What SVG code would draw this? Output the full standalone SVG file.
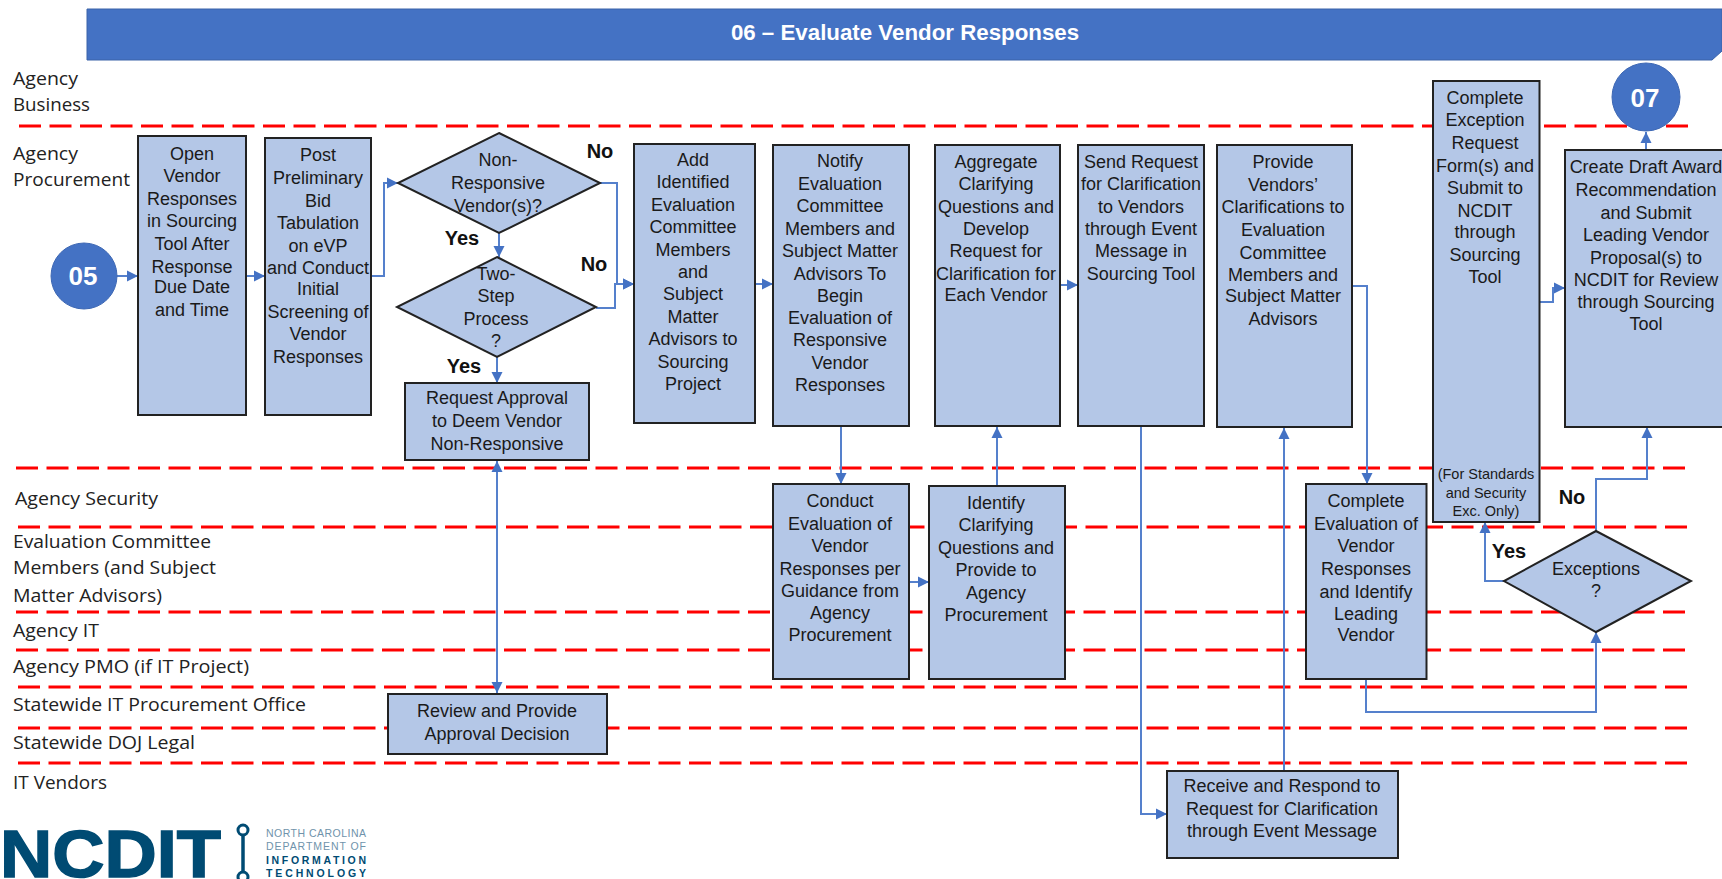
<svg xmlns="http://www.w3.org/2000/svg" width="1722" height="879" viewBox="0 0 1722 879">
<style>
.bg{fill:#fff}
.dash{stroke:#f00;stroke-width:3;stroke-dasharray:22 8.5;fill:none}
.c{stroke:#5580cc;stroke-width:2;fill:none;marker-end:url(#a)}
.n{fill:#b4c7e7;stroke:#222;stroke-width:2}
.circle{fill:#4472c4;stroke:#3e68b4;stroke-width:1}
.t{font-family:"Liberation Sans",Arial,sans-serif;font-size:18px;fill:#1a1a1a;text-anchor:middle}
.small{font-size:14.5px}
.ct{font-family:"Liberation Sans",Arial,sans-serif;font-size:26px;font-weight:700;fill:#fff;text-anchor:middle}
.lb{font-family:"Liberation Sans",Arial,sans-serif;font-size:20px;font-weight:700;fill:#111;text-anchor:middle}
.lane{font-family:"Open Sans",sans-serif;font-size:19px;fill:#222}
.logo{fill:#004b73;font-family:"Liberation Sans",Arial,sans-serif}
</style>
<defs>
<marker id="a" markerUnits="userSpaceOnUse" markerWidth="12" markerHeight="12" refX="11" refY="6" orient="auto"><path d="M0 0.5L11 6L0 11.5z" fill="#4472c4"/></marker>
<marker id="s" markerUnits="userSpaceOnUse" markerWidth="12" markerHeight="12" refX="11" refY="6" orient="auto-start-reverse"><path d="M0 0.5L11 6L0 11.5z" fill="#4472c4"/></marker>
</defs>
<rect class="bg" width="1722" height="879"/>
<g id="header"><path d="M87 9H1722V51L1712 60H87z" fill="#4472c4" stroke="#3a62a8" stroke-width="1"/>
<text x="905" y="40" font-family="'Liberation Sans',Arial,sans-serif" font-size="22.3" font-weight="700" fill="#fff" text-anchor="middle">06 – Evaluate Vendor Responses</text></g>
<g id="lanes">
<path class="dash" d="M19 126H1696"/>
<path class="dash" d="M16 468H1692"/>
<path class="dash" d="M18 527H1692"/>
<path class="dash" d="M16 612H1692"/>
<path class="dash" d="M16 650H1692"/>
<path class="dash" d="M18 687H1692"/>
<path class="dash" d="M18 728H1692"/>
<path class="dash" d="M18 763H1692"/>
<text class="lane" x="13" y="85" textLength="65" lengthAdjust="spacingAndGlyphs">Agency</text>
<text class="lane" x="13" y="111" textLength="77" lengthAdjust="spacingAndGlyphs">Business</text>
<text class="lane" x="13" y="160" textLength="65" lengthAdjust="spacingAndGlyphs">Agency</text>
<text class="lane" x="13" y="186" textLength="117" lengthAdjust="spacingAndGlyphs">Procurement</text>
<text class="lane" x="15" y="505" textLength="143" lengthAdjust="spacingAndGlyphs">Agency Security</text>
<text class="lane" x="13" y="548" textLength="198" lengthAdjust="spacingAndGlyphs">Evaluation Committee</text>
<text class="lane" x="13" y="574" textLength="203" lengthAdjust="spacingAndGlyphs">Members (and Subject</text>
<text class="lane" x="13" y="602" textLength="149" lengthAdjust="spacingAndGlyphs">Matter Advisors)</text>
<text class="lane" x="13" y="637" textLength="86" lengthAdjust="spacingAndGlyphs">Agency IT</text>
<text class="lane" x="13" y="673" textLength="236" lengthAdjust="spacingAndGlyphs">Agency PMO (if IT Project)</text>
<text class="lane" x="13" y="711" textLength="293" lengthAdjust="spacingAndGlyphs">Statewide IT Procurement Office</text>
<text class="lane" x="13" y="749" textLength="182" lengthAdjust="spacingAndGlyphs">Statewide DOJ Legal</text>
<text class="lane" x="13" y="789" textLength="94" lengthAdjust="spacingAndGlyphs">IT Vendors</text>
</g>
<g id="connectors">
<path class="c" d="M117 276H138"/>
<path class="c" d="M246 276H265"/>
<path class="c" d="M371 276H384V183H398"/>
<path class="c" d="M499 233V257"/>
<path class="c" d="M600 183H617V284H634"/>
<path class="c" d="M596 308H615V284H634"/>
<path class="c" d="M497 357V383"/>
<path class="c" d="M497 693V461" style="marker-start:url(#s)"/>
<path class="c" d="M755 284H773"/>
<path class="c" d="M841 426V484"/>
<path class="c" d="M909 582H929"/>
<path class="c" d="M997 486V427"/>
<path class="c" d="M1060 285H1078"/>
<path class="c" d="M1141 426V814H1167"/>
<path class="c" d="M1284 771V428"/>
<path class="c" d="M1352 286H1367V484"/>
<path class="c" d="M1366 679V712H1596V632"/>
<path class="c" d="M1504 581H1485V522"/>
<path class="c" d="M1596 531V479H1647V427"/>
<path class="c" d="M1540 302H1553V288H1565"/>
<path class="c" d="M1646 150V132"/>
</g>
<g id="n05"><circle class="circle" cx="84" cy="276" r="33"/><text class="ct" x="83" y="285">05</text></g>
<g id="n07"><circle class="circle" cx="1646" cy="97" r="34"/><text class="ct" x="1645" y="107">07</text></g>
<g id="open"><rect class="n" x="138" y="136" width="108" height="279"/><text class="t"><tspan x="192" y="160">Open</tspan><tspan x="192" y="182">Vendor</tspan><tspan x="192" y="205">Responses</tspan><tspan x="192" y="227">in Sourcing</tspan><tspan x="192" y="250">Tool After</tspan><tspan x="192" y="273">Response</tspan><tspan x="192" y="293">Due Date</tspan><tspan x="192" y="316">and Time</tspan></text></g>
<g id="post"><rect class="n" x="265" y="138" width="106" height="277"/><text class="t"><tspan x="318" y="161">Post</tspan><tspan x="318" y="184">Preliminary</tspan><tspan x="318" y="207">Bid</tspan><tspan x="318" y="229">Tabulation</tspan><tspan x="318" y="252">on eVP</tspan><tspan x="318" y="274">and Conduct</tspan><tspan x="318" y="295">Initial</tspan><tspan x="318" y="318">Screening of</tspan><tspan x="318" y="340">Vendor</tspan><tspan x="318" y="363">Responses</tspan></text></g>
<g id="d1"><path class="n" d="M499 133L600 183L499 233L398 183z"/><text class="t"><tspan x="498" y="166">Non-</tspan><tspan x="498" y="189">Responsive</tspan><tspan x="498" y="212">Vendor(s)?</tspan></text></g>
<g id="d2"><path class="n" d="M497 257L596 307L497 357L397 307z"/><text class="t"><tspan x="496" y="280">Two-</tspan><tspan x="496" y="302">Step</tspan><tspan x="496" y="325">Process</tspan><tspan x="496" y="347">?</tspan></text></g>
<g id="request"><rect class="n" x="405" y="383" width="184" height="77"/><text class="t"><tspan x="497" y="404">Request Approval</tspan><tspan x="497" y="427">to Deem Vendor</tspan><tspan x="497" y="450">Non-Responsive</tspan></text></g>
<g id="review"><rect class="n" x="388" y="694" width="219" height="60"/><text class="t"><tspan x="497" y="717">Review and Provide</tspan><tspan x="497" y="740">Approval Decision</tspan></text></g>
<g id="add"><rect class="n" x="634" y="144" width="121" height="279"/><text class="t"><tspan x="693" y="166">Add</tspan><tspan x="693" y="188">Identified</tspan><tspan x="693" y="211">Evaluation</tspan><tspan x="693" y="233">Committee</tspan><tspan x="693" y="256">Members</tspan><tspan x="693" y="278">and</tspan><tspan x="693" y="300">Subject</tspan><tspan x="693" y="323">Matter</tspan><tspan x="693" y="345">Advisors to</tspan><tspan x="693" y="368">Sourcing</tspan><tspan x="693" y="390">Project</tspan></text></g>
<g id="notify"><rect class="n" x="773" y="145" width="136" height="281"/><text class="t"><tspan x="840" y="167">Notify</tspan><tspan x="840" y="190">Evaluation</tspan><tspan x="840" y="212">Committee</tspan><tspan x="840" y="235">Members and</tspan><tspan x="840" y="257">Subject Matter</tspan><tspan x="840" y="280">Advisors To</tspan><tspan x="840" y="302">Begin</tspan><tspan x="840" y="324">Evaluation of</tspan><tspan x="840" y="346">Responsive</tspan><tspan x="840" y="369">Vendor</tspan><tspan x="840" y="391">Responses</tspan></text></g>
<g id="aggregate"><rect class="n" x="935" y="145" width="125" height="281"/><text class="t"><tspan x="996" y="168">Aggregate</tspan><tspan x="996" y="190">Clarifying</tspan><tspan x="996" y="213">Questions and</tspan><tspan x="996" y="235">Develop</tspan><tspan x="996" y="257">Request for</tspan><tspan x="996" y="280">Clarification for</tspan><tspan x="996" y="301">Each Vendor</tspan></text></g>
<g id="send"><rect class="n" x="1078" y="145" width="126" height="281"/><text class="t"><tspan x="1141" y="168">Send Request</tspan><tspan x="1141" y="190">for Clarification</tspan><tspan x="1141" y="213">to Vendors</tspan><tspan x="1141" y="235">through Event</tspan><tspan x="1141" y="257">Message in</tspan><tspan x="1141" y="280">Sourcing Tool</tspan></text></g>
<g id="provide"><rect class="n" x="1217" y="145" width="135" height="282"/><text class="t"><tspan x="1283" y="168">Provide</tspan><tspan x="1283" y="191">Vendors’</tspan><tspan x="1283" y="213">Clarifications to</tspan><tspan x="1283" y="236">Evaluation</tspan><tspan x="1283" y="259">Committee</tspan><tspan x="1283" y="281">Members and</tspan><tspan x="1283" y="302">Subject Matter</tspan><tspan x="1283" y="325">Advisors</tspan></text></g>
<g id="exception"><rect class="n" x="1433" y="81" width="106.5" height="441"/><text class="t"><tspan x="1485" y="104">Complete</tspan><tspan x="1485" y="126">Exception</tspan><tspan x="1485" y="149">Request</tspan><tspan x="1485" y="172">Form(s) and</tspan><tspan x="1485" y="194">Submit to</tspan><tspan x="1485" y="217">NCDIT</tspan><tspan x="1485" y="238">through</tspan><tspan x="1485" y="261">Sourcing</tspan><tspan x="1485" y="283">Tool</tspan></text><text class="t small"><tspan x="1486" y="479">(For Standards</tspan><tspan x="1486" y="498">and Security</tspan><tspan x="1486" y="516">Exc. Only)</tspan></text></g>
<g id="create"><rect class="n" x="1565" y="150" width="170" height="277"/><text class="t"><tspan x="1646" y="173">Create Draft Award</tspan><tspan x="1646" y="196">Recommendation</tspan><tspan x="1646" y="219">and Submit</tspan><tspan x="1646" y="241">Leading Vendor</tspan><tspan x="1646" y="264">Proposal(s) to</tspan><tspan x="1646" y="286">NCDIT for Review</tspan><tspan x="1646" y="308">through Sourcing</tspan><tspan x="1646" y="330">Tool</tspan></text></g>
<g id="conduct"><rect class="n" x="773" y="484" width="136" height="195"/><text class="t"><tspan x="840" y="507">Conduct</tspan><tspan x="840" y="530">Evaluation of</tspan><tspan x="840" y="552">Vendor</tspan><tspan x="840" y="575">Responses per</tspan><tspan x="840" y="597">Guidance from</tspan><tspan x="840" y="619">Agency</tspan><tspan x="840" y="641">Procurement</tspan></text></g>
<g id="identify"><rect class="n" x="929" y="486" width="136" height="193"/><text class="t"><tspan x="996" y="509">Identify</tspan><tspan x="996" y="531">Clarifying</tspan><tspan x="996" y="554">Questions and</tspan><tspan x="996" y="576">Provide to</tspan><tspan x="996" y="599">Agency</tspan><tspan x="996" y="621">Procurement</tspan></text></g>
<g id="evaluate"><rect class="n" x="1306" y="484" width="120.5" height="195"/><text class="t"><tspan x="1366" y="507">Complete</tspan><tspan x="1366" y="530">Evaluation of</tspan><tspan x="1366" y="552">Vendor</tspan><tspan x="1366" y="575">Responses</tspan><tspan x="1366" y="598">and Identify</tspan><tspan x="1366" y="620">Leading</tspan><tspan x="1366" y="641">Vendor</tspan></text></g>
<g id="exceptions"><path class="n" d="M1596 531L1691 581L1596 632L1504 581z"/><text class="t"><tspan x="1596" y="575">Exceptions</tspan><tspan x="1596" y="597">?</tspan></text></g>
<g id="receive"><rect class="n" x="1167" y="771" width="231" height="87"/><text class="t"><tspan x="1282" y="792">Receive and Respond to</tspan><tspan x="1282" y="815">Request for Clarification</tspan><tspan x="1282" y="837">through Event Message</tspan></text></g>
<g id="labels">
<text class="lb" x="600" y="158">No</text>
<text class="lb" x="462" y="245">Yes</text>
<text class="lb" x="594" y="271">No</text>
<text class="lb" x="464" y="373">Yes</text>
<text class="lb" x="1509" y="558">Yes</text>
<text class="lb" x="1572" y="504">No</text>
</g>
<g id="logo">
<text class="logo" x="0" y="877" font-size="66" font-weight="700" textLength="221" lengthAdjust="spacingAndGlyphs" stroke="#004b73" stroke-width="1.5">NCDIT</text>
<path d="M243 836V872" stroke="#004b73" stroke-width="3.5" fill="none"/>
<circle cx="243" cy="830" r="5" fill="none" stroke="#004b73" stroke-width="3"/>
<circle cx="243" cy="877" r="5" fill="none" stroke="#004b73" stroke-width="3"/>
<text x="266" y="837" font-family="'Liberation Sans',Arial,sans-serif" font-size="10.5" fill="#6f93ab" textLength="100">NORTH CAROLINA</text>
<text x="266" y="850" font-family="'Liberation Sans',Arial,sans-serif" font-size="10.5" fill="#6f93ab" textLength="100">DEPARTMENT OF</text>
<text x="266" y="864" font-family="'Liberation Sans',Arial,sans-serif" font-size="10.5" font-weight="700" fill="#004b73" textLength="100">INFORMATION</text>
<text x="266" y="877" font-family="'Liberation Sans',Arial,sans-serif" font-size="10.5" font-weight="700" fill="#004b73" textLength="100">TECHNOLOGY</text>
</g>
</svg>
